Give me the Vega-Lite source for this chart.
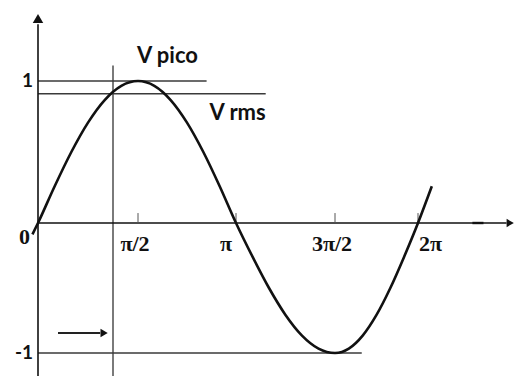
{
  "$schema": "https://vega.github.io/schema/vega-lite/v6.json",
  "width": 514,
  "height": 376,
  "autosize": {"type": "none"},
  "padding": 0,
  "background": "white",
  "config": {"view": {"stroke": null}},
  "datasets": {
    "wave": [
      {"t": -5, "v": -0.087}, {"t": 0, "v": 0}, {"t": 15, "v": 0.259}, {"t": 30, "v": 0.5},
      {"t": 45, "v": 0.707}, {"t": 60, "v": 0.866}, {"t": 75, "v": 0.966}, {"t": 90, "v": 1},
      {"t": 105, "v": 0.966}, {"t": 120, "v": 0.866}, {"t": 135, "v": 0.707}, {"t": 150, "v": 0.5},
      {"t": 165, "v": 0.259}, {"t": 180, "v": 0}, {"t": 195, "v": -0.259}, {"t": 210, "v": -0.5},
      {"t": 225, "v": -0.707}, {"t": 240, "v": -0.866}, {"t": 255, "v": -0.966}, {"t": 270, "v": -1},
      {"t": 285, "v": -0.966}, {"t": 300, "v": -0.866}, {"t": 315, "v": -0.707}, {"t": 330, "v": -0.5},
      {"t": 345, "v": -0.259}, {"t": 360, "v": 0}, {"t": 375, "v": 0.259}
    ],
    "axes": [
      {"t": 0, "t2": 0, "v": -1.2, "v2": 1.4},
      {"t": 0, "t2": 456, "v": 0, "v2": 0}
    ],
    "dash": [{"t": 419, "t2": 431, "v": 0, "v2": 0}],
    "levels": [
      {"t": 0, "t2": 153, "v": 1, "v2": 1},
      {"t": 0, "t2": 207, "v": 0.91, "v2": 0.91},
      {"t": 0, "t2": 299, "v": -1, "v2": -1}
    ],
    "marker": [{"t": 67.5, "t2": 67.5, "v": -1.2, "v2": 1.11}],
    "ticks": [
      {"t": 90, "t2": 90, "v": 0, "v2": 0.07},
      {"t": 180, "t2": 180, "v": 0, "v2": 0.07},
      {"t": 270, "t2": 270, "v": 0, "v2": 0.07},
      {"t": 360, "t2": 360, "v": 0, "v2": 0.07}
    ],
    "shaft": [{"t": 18, "t2": 56, "v": -0.846, "v2": -0.846}],
    "upHead": [{"t": 0, "v": 1.44}],
    "rightHeads": [{"t": 460, "v": 0}, {"t": 59.5, "v": -0.846}],
    "peakLabel": [{"t": 90, "v": 1, "label": "V pico"}],
    "rmsLabel": [{"t": 207, "v": 0.91, "label": "V rms"}],
    "yLabels": [{"t": 0, "v": 1, "label": "1"}, {"t": 0, "v": -1, "label": "-1"}],
    "originLabel": [{"t": 0, "v": 0, "label": "0"}],
    "rightLabels": [{"t": 180, "v": 0, "label": "π"}],
    "centerLabels": [{"t": 90, "v": 0, "label": "π/2"}, {"t": 270, "v": 0, "label": "3π/2"}],
    "leftLabels": [{"t": 360, "v": 0, "label": "2π"}]
  },
  "encoding": {
    "x": {
      "field": "t",
      "type": "quantitative",
      "axis": null,
      "scale": {"domain": [0, 90, 180, 270, 360], "range": [38, 138, 236, 335, 418]}
    },
    "y": {
      "field": "v",
      "type": "quantitative",
      "axis": null,
      "scale": {"domain": [-1, 0, 1], "range": [353, 223, 81]}
    }
  },
  "layer": [
    {
      "data": {"name": "marker"},
      "mark": {"type": "rule", "color": "#7a7a7a", "strokeWidth": 2},
      "encoding": {"x2": {"field": "t2"}, "y2": {"field": "v2"}}
    },
    {
      "data": {"name": "levels"},
      "mark": {"type": "rule", "color": "#3a3a3a", "strokeWidth": 1.6},
      "encoding": {"x2": {"field": "t2"}, "y2": {"field": "v2"}}
    },
    {
      "data": {"name": "axes"},
      "mark": {"type": "rule", "color": "#111111", "strokeWidth": 1.6},
      "encoding": {"x2": {"field": "t2"}, "y2": {"field": "v2"}}
    },
    {
      "data": {"name": "dash"},
      "mark": {"type": "rule", "color": "#111111", "strokeWidth": 2.4},
      "encoding": {"x2": {"field": "t2"}, "y2": {"field": "v2"}}
    },
    {
      "data": {"name": "ticks"},
      "mark": {"type": "rule", "color": "#555555", "strokeWidth": 1},
      "encoding": {"x2": {"field": "t2"}, "y2": {"field": "v2"}}
    },
    {
      "data": {"name": "shaft"},
      "mark": {"type": "rule", "color": "#222222", "strokeWidth": 1.8},
      "encoding": {"x2": {"field": "t2"}, "y2": {"field": "v2"}}
    },
    {
      "data": {"name": "upHead"},
      "mark": {"type": "point", "shape": "triangle-up", "filled": true, "color": "#111111", "size": 110, "opacity": 1}
    },
    {
      "data": {"name": "rightHeads"},
      "mark": {"type": "point", "shape": "triangle-right", "filled": true, "color": "#111111", "size": 70, "opacity": 1}
    },
    {
      "data": {"name": "wave"},
      "mark": {"type": "line", "color": "#111111", "strokeWidth": 2.6, "interpolate": "monotone"}
    },
    {
      "data": {"name": "peakLabel"},
      "mark": {"type": "text", "align": "left", "baseline": "alphabetic", "dy": -18, "dx": -1, "font": "Lato", "fontWeight": "bold", "fontSize": 22, "color": "#111111"},
      "encoding": {"text": {"field": "label"}}
    },
    {
      "data": {"name": "rmsLabel"},
      "mark": {"type": "text", "align": "right", "baseline": "alphabetic", "dy": 26, "font": "Lato", "fontWeight": "bold", "fontSize": 22, "color": "#111111"},
      "encoding": {"text": {"field": "label"}}
    },
    {
      "data": {"name": "yLabels"},
      "mark": {"type": "text", "align": "right", "baseline": "middle", "dx": -5, "font": "Lato", "fontWeight": "bold", "fontSize": 19, "color": "#111111"},
      "encoding": {"text": {"field": "label"}}
    },
    {
      "data": {"name": "originLabel"},
      "mark": {"type": "text", "align": "right", "baseline": "middle", "dx": -8, "dy": 14, "font": "Liberation Serif", "fontWeight": "bold", "fontSize": 22, "color": "#111111"},
      "encoding": {"text": {"field": "label"}}
    },
    {
      "data": {"name": "rightLabels"},
      "mark": {"type": "text", "align": "right", "baseline": "middle", "dx": -4, "dy": 21, "font": "Liberation Serif", "fontWeight": "bold", "fontSize": 22, "color": "#111111"},
      "encoding": {"text": {"field": "label"}}
    },
    {
      "data": {"name": "centerLabels"},
      "mark": {"type": "text", "align": "center", "baseline": "middle", "dx": -3, "dy": 21, "font": "Liberation Serif", "fontWeight": "bold", "fontSize": 22, "color": "#111111"},
      "encoding": {"text": {"field": "label"}}
    },
    {
      "data": {"name": "leftLabels"},
      "mark": {"type": "text", "align": "left", "baseline": "middle", "dx": 1, "dy": 21, "font": "Liberation Serif", "fontWeight": "bold", "fontSize": 22, "color": "#111111"},
      "encoding": {"text": {"field": "label"}}
    }
  ]
}
